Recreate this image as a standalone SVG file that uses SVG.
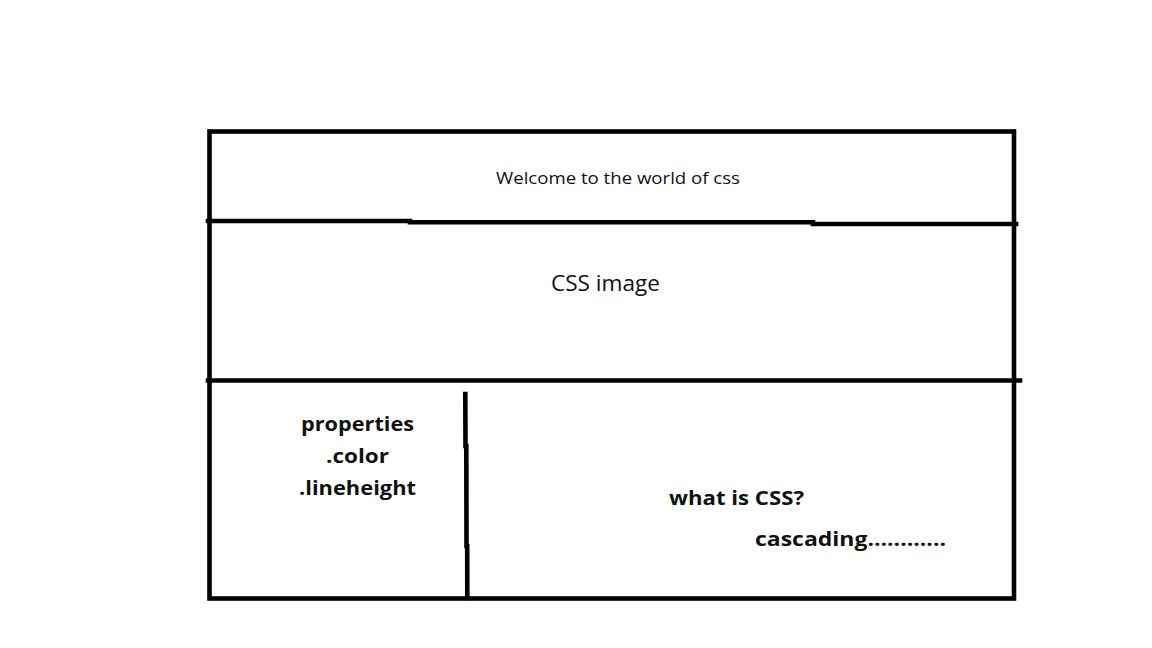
<svg xmlns="http://www.w3.org/2000/svg" width="1152" height="648" viewBox="0 0 1152 648">
  <style>
    .ln { stroke: #000; stroke-width: 4.6; fill: none; stroke-linecap: square; }
    .reg { font-family: "Open Sans", "Noto Sans", "Liberation Sans", sans-serif; fill: #111; text-anchor: start; }
    .bold { font-family: "Open Sans", "Noto Sans", "Liberation Sans", sans-serif; font-weight: bold; fill: #111; }
  </style>
  <rect x="0" y="0" width="1152" height="648" fill="#fff"/>
  <g id="connectors">
    <rect class="ln" x="209.5" y="131.5" width="804.5" height="467"/>
    <polyline class="ln" points="208,221 410,221 410,222.3 813,222.3 813,224 1016,224" stroke-linecap="butt"/>
    <line class="ln" x1="208" y1="380.5" x2="1020" y2="380.5" stroke-linecap="butt"/>
    <polyline class="ln" points="465.3,394 465.5,446 466.3,446 466.5,546 467.2,546 467.3,598" stroke-linecap="butt"/>
  </g>
  <g id="header">
    <text class="reg" x="496" y="184" font-size="16.5" textLength="244" lengthAdjust="spacingAndGlyphs">Welcome to the world of css</text>
  </g>
  <g id="image">
    <text class="reg" x="551" y="291" font-size="22" textLength="109" lengthAdjust="spacingAndGlyphs">CSS image</text>
  </g>
  <g id="properties">
    <text class="bold" x="301" y="431" font-size="20" textLength="113" lengthAdjust="spacingAndGlyphs">properties</text>
    <text class="bold" x="326" y="463" font-size="20" textLength="63" lengthAdjust="spacingAndGlyphs">.color</text>
    <text class="bold" x="299" y="495" font-size="20" textLength="117" lengthAdjust="spacingAndGlyphs">.lineheight</text>
  </g>
  <g id="content">
    <text class="bold" x="669" y="505" font-size="20" textLength="135" lengthAdjust="spacingAndGlyphs">what is CSS?</text>
    <text class="bold" x="755" y="546" font-size="20" textLength="191" lengthAdjust="spacingAndGlyphs">cascading............</text>
  </g>
</svg>
